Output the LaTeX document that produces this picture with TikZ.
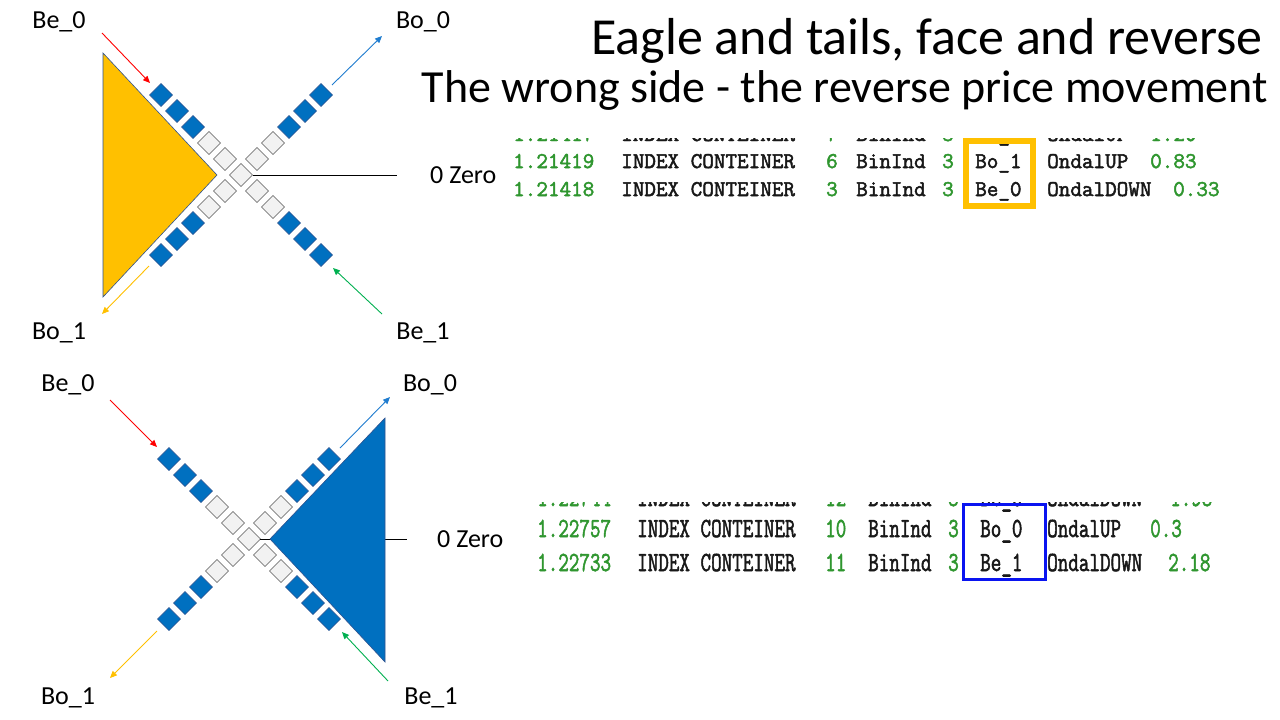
\documentclass[tikz,border=0pt]{standalone}
\usepackage{fontspec}
\usepackage{graphicx}
\setmainfont{Carlito}
\setmonofont{Latin Modern Mono}[FakeBold=2.2]
\usetikzlibrary{arrows.meta}

\definecolor{gold}{HTML}{FFC000}
\definecolor{mblue}{HTML}{0070C0}
\definecolor{edgeblue}{HTML}{2F528F}
\definecolor{cellgrey}{HTML}{F2F2F2}
\definecolor{cellline}{HTML}{595959}
\definecolor{arrred}{HTML}{FF0000}
\definecolor{arrblue}{HTML}{1F7CCF}
\definecolor{arrgreen}{HTML}{00B050}
\definecolor{codegreen}{HTML}{2F962F}
\definecolor{codeblack}{HTML}{181818}
\definecolor{boxblue}{HTML}{0A14F0}

% taller, narrower listing text for the second log excerpt
\newcommand\tallcode[1]{\scalebox{1}[1.35]{#1}}

\tikzset{
  lbl/.style={font=\fontsize{26}{30}\selectfont, inner sep=0pt, text=black},
  arr/.style={line width=0.9pt, -{Triangle[length=7pt,width=6pt]}},
  code/.style={font=\ttfamily\bfseries\fontsize{22.5}{26}\selectfont, inner sep=0pt, anchor=base west, text=codeblack},
  codenum/.style={code, text=codegreen},
  codeb/.style={font=\ttfamily\bfseries\fontsize{20.5}{24}\selectfont, inner sep=0pt, anchor=base west, text=codeblack},
  codebnum/.style={codeb, text=codegreen},
  cellline/.style={line width=0.6pt},
}

\begin{document}
\begin{tikzpicture}[x=1pt,y=-1pt]
\useasboundingbox[fill=white] (0,0) rectangle (1280,720);

% ---------- the two crosses of cells ----------
\def\hd{11.5}
\foreach \cx/\cy in {241/175, 249/539}{
  \path[fill=cellgrey, draw=cellline, cellline]
    (\cx-\hd,\cy) -- (\cx,\cy-\hd) -- (\cx+\hd,\cy) -- (\cx,\cy+\hd) -- cycle;
  \foreach \dx/\dy in {-16/-16, 16/-16, -16/16, 16/16}{
    \foreach \k in {1,...,5}{
      \pgfmathsetmacro\px{\cx+\k*(\dx)}
      \pgfmathsetmacro\py{\cy+\k*(\dy)}
      \ifnum\k<3 \def\cf{cellgrey}\def\cd{cellline}\else\def\cf{mblue}\def\cd{edgeblue}\fi
      \path[fill=\cf, draw=\cd, cellline]
        (\px-\hd,\py) -- (\px,\py-\hd) -- (\px+\hd,\py) -- (\px,\py+\hd) -- cycle;
    }
  }
}

% ---------- upper figure ----------
\coordinate (c1) at (253,175);
\coordinate (z1) at (397,175);
\draw[line width=0.8pt] (c1) -- (z1);
\fill[gold, draw=edgeblue, line width=0.6pt] (103,53) -- (217,175) -- (103,297) -- cycle;

\coordinate (a1s) at (102,33);  \coordinate (a1e) at (150,83);
\coordinate (a2s) at (332,85);  \coordinate (a2e) at (382,36);
\coordinate (a3s) at (149,266); \coordinate (a3e) at (102,314);
\coordinate (a4s) at (382,314); \coordinate (a4e) at (333,268);
\draw[arr, arrred]   (a1s) -- (a1e);
\draw[arr, arrblue]  (a2s) -- (a2e);
\draw[arr, gold]     (a3s) -- (a3e);
\draw[arr, arrgreen] (a4s) -- (a4e);

\node[lbl] (ube0) at (59,22)  {Be\_0};
\node[lbl] (ubo0) at (423,22) {Bo\_0};
\node[lbl] (ubo1) at (59,333) {Bo\_1};
\node[lbl] (ube1) at (423,333) {Be\_1};
\node[lbl, anchor=west] (uzero) at (430,175) {0 Zero};

% ---------- lower figure ----------
\coordinate (c2) at (260,539);
\coordinate (z2) at (407,539);
\draw[line width=0.8pt] (c2) -- (z2);
\fill[mblue, draw=edgeblue, line width=0.6pt] (270,539) -- (385,418) -- (385,662) -- cycle;

\coordinate (b1s) at (110,400); \coordinate (b1e) at (157,447);
\coordinate (b2s) at (340,448); \coordinate (b2e) at (390,397);
\coordinate (b3s) at (157,631); \coordinate (b3e) at (110,678);
\coordinate (b4s) at (388,681); \coordinate (b4e) at (342,632);
\draw[arr, arrred]   (b1s) -- (b1e);
\draw[arr, arrblue]  (b2s) -- (b2e);
\draw[arr, gold]     (b3s) -- (b3e);
\draw[arr, arrgreen] (b4s) -- (b4e);

\node[lbl] (lbe0) at (68,385)  {Be\_0};
\node[lbl] (lbo0) at (430,385) {Bo\_0};
\node[lbl] (lbo1) at (68,698)  {Bo\_1};
\node[lbl] (lbe1) at (431,698) {Be\_1};
\node[lbl, anchor=west] (lzero) at (437,539) {0 Zero};

% ---------- title ----------
\node[font=\fontsize{52}{60}\selectfont, inner sep=0pt, anchor=base east] (title) at (1263,54) {Eagle and tails, face and reverse};
\node[font=\fontsize{46}{54}\selectfont, inner sep=0pt, anchor=base east] (subtitle) at (1268,102) {The wrong side - the reverse price movement};

% ---------- first log excerpt ----------
\begin{scope}
  \clip (500,138.6) rectangle (1240,152);
  \node[codenum] (r0a) at (513,141) {1.21417};
  \node[code]    (r0b) at (621,141) {INDEX CONTEINER};
  \node[codenum] (r0c) at (826,141) {7};
  \node[code]    (r0d) at (856,141) {BinInd};
  \node[codenum] (r0e) at (942,141) {3};
  \node[code]    (r0f) at (975,141) {Bo\_0};
  \node[code]    (r0g) at (1047,141) {OndalUP};
  \node[codenum] (r0h) at (1150,141) {1.20};
\end{scope}
\node[codenum] (r1a) at (513,168) {1.21419};
\node[code]    (r1b) at (621,168) {INDEX CONTEINER};
\node[codenum] (r1c) at (826,168) {6};
\node[code]    (r1d) at (856,168) {BinInd};
\node[codenum] (r1e) at (942,168) {3};
\node[code]    (r1f) at (975,168) {Bo\_1};
\node[code]    (r1g) at (1047,168) {OndalUP};
\node[codenum] (r1h) at (1150,168) {0.83};

\node[codenum] (r2a) at (513,196) {1.21418};
\node[code]    (r2b) at (621,196) {INDEX CONTEINER};
\node[codenum] (r2c) at (826,196) {3};
\node[code]    (r2d) at (856,196) {BinInd};
\node[codenum] (r2e) at (942,196) {3};
\node[code]    (r2f) at (975,196) {Be\_0};
\node[code]    (r2g) at (1047,196) {OndalDOWN};
\node[codenum] (r2h) at (1173,196) {0.33};

\draw[gold, line width=6pt] (965.5,141) rectangle (1032.5,206);

% ---------- second log excerpt ----------
\begin{scope}
  \clip (520,502.6) rectangle (1240,516);
  \node[codebnum] (s0a) at (537,506) {\tallcode{1.22744}};
  \node[codeb]    (s0b) at (637,506) {\tallcode{INDEX CONTEINER}};
  \node[codebnum] (s0c) at (825,506) {\tallcode{12}};
  \node[codeb]    (s0d) at (868,506) {\tallcode{BinInd}};
  \node[codebnum] (s0e) at (948,506) {\tallcode{3}};
  \node[codeb]    (s0f) at (980,506) {\tallcode{Be\_0}};
  \node[codeb]    (s0g) at (1047,506) {\tallcode{OndalDOWN}};
  \node[codebnum] (s0h) at (1170,506) {\tallcode{1.93}};
\end{scope}
\node[codebnum] (s1a) at (537,537) {\tallcode{1.22757}};
\node[codeb]    (s1b) at (637,537) {\tallcode{INDEX CONTEINER}};
\node[codebnum] (s1c) at (825,537) {\tallcode{10}};
\node[codeb]    (s1d) at (868,537) {\tallcode{BinInd}};
\node[codebnum] (s1e) at (948,537) {\tallcode{3}};
\node[codeb]    (s1f) at (980,537) {\tallcode{Bo\_0}};
\node[codeb]    (s1g) at (1047,537) {\tallcode{OndalUP}};
\node[codebnum] (s1h) at (1150,537) {\tallcode{0.3}};

\node[codebnum] (s2a) at (537,571) {\tallcode{1.22733}};
\node[codeb]    (s2b) at (637,571) {\tallcode{INDEX CONTEINER}};
\node[codebnum] (s2c) at (825,571) {\tallcode{11}};
\node[codeb]    (s2d) at (868,571) {\tallcode{BinInd}};
\node[codebnum] (s2e) at (948,571) {\tallcode{3}};
\node[codeb]    (s2f) at (980,571) {\tallcode{Be\_1}};
\node[codeb]    (s2g) at (1047,571) {\tallcode{OndalDOWN}};
\node[codebnum] (s2h) at (1168,571) {\tallcode{2.18}};

\draw[boxblue, line width=3pt] (963.5,504.5) rectangle (1045.5,579);
\end{tikzpicture}
\end{document}
